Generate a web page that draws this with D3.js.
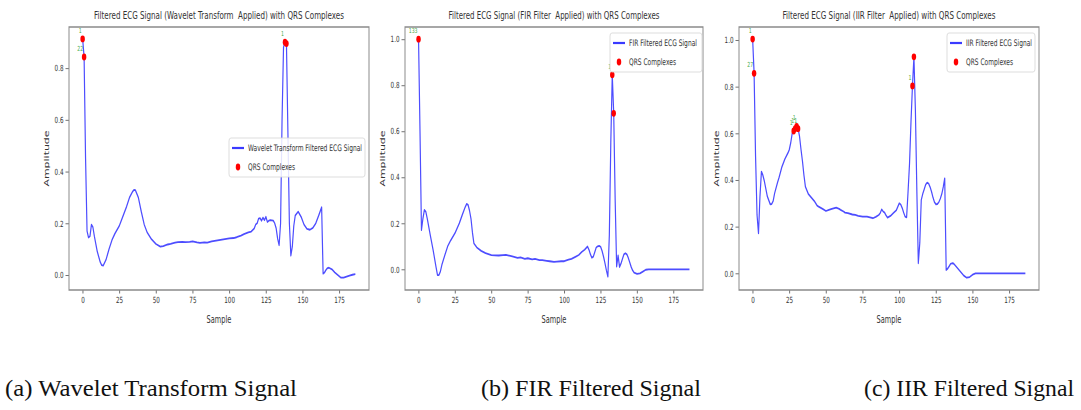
<!DOCTYPE html>
<html>
<head>
<meta charset="utf-8">
<script src="https://cdn.jsdelivr.net/npm/d3@7"></script>
<style>
	body { margin: 0; background: #fff; }
	svg { display: block; }
	text { white-space: pre; }
</style>
</head>
<body>
<script>
// --- data ---
var sampleTicks = [0, 25, 50, 75, 100, 125, 150, 175];
var waveletTicks = [0.0, 0.2, 0.4, 0.6, 0.8];
var filterTicks = [0.0, 0.2, 0.4, 0.6, 0.8, 1.0];

var titles = [
	'Filtered ECG Signal (Wavelet Transform  Applied) with QRS Complexes',
	'Filtered ECG Signal (FIR Filter  Applied) with QRS Complexes',
	'Filtered ECG Signal (IIR Filter  Applied) with QRS Complexes'
];
var seriesNames = [
	'Wavelet Transform Filtered ECG Signal',
	'FIR Filtered ECG Signal',
	'IIR Filtered ECG Signal'
];
var captions = ['(a) Wavelet Transform Signal', '(b) FIR Filtered Signal', '(c) IIR Filtered Signal'];

var waveletSamples = [0, 1, 2, 3, 4, 5, 6, 7, 8, 10, 12, 13, 14, 16, 18, 20, 22, 25, 28, 30, 32, 34, 35, 36, 38, 40,
	42, 44, 47, 50, 53, 55, 58, 60, 63, 65, 68, 70, 73, 75, 78, 80, 83, 85, 88, 90, 93, 95, 98, 100, 103, 105, 108, 110,
	113, 115, 117, 118, 119, 120, 121, 122, 123, 124, 125, 126, 127, 128, 130, 131, 132, 133, 134, 135, 136, 137, 138,
	139, 140, 141, 142, 143, 144, 145, 147, 149, 151, 153, 155, 157, 159, 161, 163, 164, 165, 166, 167, 168, 170, 172,
	174, 176, 178, 180, 182, 184, 186];
var waveletValues = [0.913, 0.843, 0.45, 0.17, 0.145, 0.15, 0.195, 0.185, 0.15, 0.09, 0.05, 0.038, 0.036, 0.06, 0.1,
	0.135, 0.16, 0.19, 0.235, 0.265, 0.3, 0.322, 0.329, 0.328, 0.3, 0.245, 0.195, 0.165, 0.138, 0.12, 0.11, 0.112,
	0.118, 0.12, 0.125, 0.127, 0.128, 0.127, 0.128, 0.13, 0.126, 0.124, 0.126, 0.125, 0.13, 0.132, 0.135, 0.137, 0.14,
	0.142, 0.143, 0.146, 0.152, 0.158, 0.165, 0.168, 0.18, 0.195, 0.2, 0.218, 0.22, 0.21, 0.222, 0.212, 0.225, 0.205,
	0.21, 0.212, 0.21, 0.2, 0.18, 0.14, 0.115, 0.2, 0.6, 0.88, 0.9, 0.895, 0.55, 0.2, 0.075, 0.11, 0.19, 0.23, 0.245,
	0.225, 0.195, 0.178, 0.175, 0.182, 0.2, 0.23, 0.262, 0.005, 0.01, 0.02, 0.027, 0.028, 0.022, 0.01, 0.0, -0.01,
	-0.01, -0.006, -0.002, 0.001, 0.003];
var waveletQrsSamples = [0, 1, 138, 139];
var waveletQrsValues = [0.913, 0.843, 0.9, 0.895];
var waveletQrsLabels = ['1', '22', '1', ''];

var firSamples = [0, 1, 2, 3, 4, 5, 6, 7, 8, 10, 12, 13, 14, 15, 16, 18, 20, 22, 25, 28, 30, 32, 33, 34, 35, 36, 37,
	38, 40, 43, 46, 50, 55, 58, 60, 63, 65, 68, 70, 73, 75, 78, 80, 83, 85, 88, 90, 93, 95, 98, 100, 103, 105, 108, 110,
	112, 114, 116, 117, 118, 119, 120, 121, 122, 123, 124, 125, 126, 127, 128, 129, 130, 131, 132, 133, 134, 135, 136,
	137, 138, 139, 140, 141, 142, 143, 144, 145, 146, 147, 148, 150, 152, 154, 156, 158, 160, 165, 170, 175, 180, 186];
var firValues = [1.0, 0.6, 0.17, 0.22, 0.258, 0.25, 0.22, 0.185, 0.15, 0.084, 0.01, -0.025, -0.025, -0.01, 0.019,
	0.06, 0.1, 0.125, 0.157, 0.2, 0.236, 0.27, 0.284, 0.28, 0.255, 0.22, 0.16, 0.113, 0.095, 0.08, 0.07, 0.062, 0.06,
	0.062, 0.063, 0.058, 0.055, 0.05, 0.052, 0.045, 0.048, 0.043, 0.045, 0.04, 0.04, 0.037, 0.035, 0.032, 0.033, 0.035,
	0.035, 0.042, 0.045, 0.055, 0.062, 0.075, 0.085, 0.099, 0.085, 0.065, 0.05, 0.055, 0.075, 0.095, 0.1, 0.102,
	0.098, 0.08, 0.055, 0.026, -0.005, -0.032, 0.15, 0.55, 0.845, 0.678, 0.3, 0.012, 0.06, 0.01, 0.025, 0.045, 0.065,
	0.07, 0.065, 0.05, 0.03, 0.01, -0.005, -0.015, -0.02, -0.018, -0.01, -0.002, 0.0, 0.0, 0.0, 0.0, 0.0, 0.0, 0.0];
var firQrsSamples = [0, 133, 134];
var firQrsValues = [1.0, 0.845, 0.678];
var firQrsLabels = ['133', '1', ''];

var iirSamples = [0, 1, 2, 3, 4, 5, 6, 7, 8, 10, 12, 13, 14, 15, 17, 18, 20, 22, 24, 25, 26, 27, 28, 29, 30, 31, 32,
	33, 34, 35, 36, 38, 40, 42, 44, 45, 48, 50, 52, 54, 57, 59, 60, 62, 63, 65, 68, 70, 72, 75, 78, 80, 82, 84, 86, 87,
	88, 89, 90, 91, 92, 94, 96, 98, 100, 101, 102, 103, 104, 105, 106, 107, 108, 109, 110, 111, 112, 113, 114, 115,
	116, 117, 118, 119, 120, 121, 122, 123, 124, 125, 126, 127, 128, 129, 130, 131, 132, 133, 134, 135, 136, 137, 138,
	140, 142, 144, 146, 148, 150, 152, 155, 160, 170, 180, 186];
var iirValues = [1.004, 0.857, 0.5, 0.25, 0.171, 0.33, 0.436, 0.42, 0.395, 0.33, 0.296, 0.297, 0.31, 0.343, 0.39,
	0.41, 0.457, 0.49, 0.515, 0.53, 0.56, 0.6, 0.61, 0.62, 0.63, 0.62, 0.586, 0.53, 0.48, 0.42, 0.371, 0.34, 0.325, 0.31,
	0.29, 0.286, 0.275, 0.267, 0.272, 0.276, 0.281, 0.276, 0.272, 0.265, 0.26, 0.258, 0.252, 0.25, 0.246, 0.243, 0.243,
	0.24, 0.236, 0.242, 0.25, 0.258, 0.274, 0.265, 0.26, 0.248, 0.239, 0.246, 0.258, 0.27, 0.3, 0.295, 0.28, 0.26,
	0.243, 0.24, 0.35, 0.47, 0.65, 0.803, 0.928, 0.7, 0.35, 0.043, 0.13, 0.314, 0.34, 0.36, 0.38, 0.389, 0.385, 0.37,
	0.35, 0.325, 0.305, 0.296, 0.297, 0.305, 0.32, 0.34, 0.37, 0.407, 0.014, 0.02, 0.03, 0.04, 0.043, 0.042, 0.035,
	0.02, 0.005, -0.01, -0.019, -0.016, -0.006, 0.0, 0.0, 0.0, 0.0, 0.0, 0.0];
var iirQrsSamples = [0, 1, 28, 29, 30, 31, 109, 110];
var iirQrsValues = [1.004, 0.857, 0.61, 0.62, 0.63, 0.62, 0.803, 0.928];
var iirQrsLabels = ['1', '27', '1', '1', '1', '1', '1', ''];

// --- look ---
var SX = 0.66; // the figure is squeezed horizontally
var LINE_BLUE = '#4d4dff';
var QRS_RED = '#ff0000';
var LABEL_GREEN = '#45a845';
var FONT = 'DejaVu Sans, sans-serif';
var PLOT_TOP = 27;
var PLOT_BOTTOM = 290;

var svg = d3.select('body').append('svg')
	.attr('width', 1081)
	.attr('height', 410);

var fig = svg.append('g').attr('transform', 'scale(' + SX + ',1)');

function zipPoints(xs, ys) {
	return xs.map(function(x, i) { return { x: x, y: ys[i] }; });
}

function drawPanel(p) {
	var left = p.left / SX;
	var right = p.right / SX;
	var x = d3.scaleLinear().domain([-9.3, 195.3]).range([left, right]);
	var y = d3.scaleLinear().domain(p.yDomain).range([PLOT_BOTTOM, PLOT_TOP]);
	var g = fig.append('g');

	// signal
	g.append('path')
		.datum(zipPoints(p.samples, p.values))
		.attr('fill', 'none')
		.attr('stroke', LINE_BLUE)
		.attr('stroke-width', 1.8)
		.attr('stroke-linejoin', 'round')
		.attr('d', d3.line().x(function(d) { return x(d.x); }).y(function(d) { return y(d.y); }));

	// qrs points
	var qrs = zipPoints(p.qrsSamples, p.qrsValues);
	g.selectAll('circle.qrs')
		.data(qrs)
		.enter().append('circle')
		.attr('class', 'qrs')
		.attr('cx', function(d) { return x(d.x); })
		.attr('cy', function(d) { return y(d.y); })
		.attr('r', 3.4)
		.attr('fill', QRS_RED);

	g.selectAll('text.ann')
		.data(qrs)
		.enter().append('text')
		.attr('class', 'ann')
		.attr('x', function(d) { return x(d.x) - 1.5; })
		.attr('y', function(d) { return y(d.y) - 6; })
		.attr('text-anchor', 'end')
		.attr('font-family', FONT)
		.attr('font-size', 7)
		.attr('fill', LABEL_GREEN)
		.text(function(d, i) { return p.qrsLabels[i]; });

	// axes
	var xAxis = g.append('g')
		.attr('transform', 'translate(0,' + PLOT_BOTTOM + ')')
		.call(d3.axisBottom(x).tickValues(sampleTicks).tickSize(3.5).tickPadding(3));
	var yAxis = g.append('g')
		.attr('transform', 'translate(' + left + ',0)')
		.call(d3.axisLeft(y).tickValues(p.yTicks).tickFormat(d3.format('.1f')).tickSize(3.5 / SX).tickPadding(3));
	[xAxis, yAxis].forEach(function(a) {
		a.select('.domain').remove();
		a.selectAll('line').attr('stroke', '#555');
		a.selectAll('text').attr('font-family', FONT).attr('font-size', 8.5).attr('fill', '#333');
	});

	g.append('rect')
		.attr('x', left)
		.attr('y', PLOT_TOP)
		.attr('width', right - left)
		.attr('height', PLOT_BOTTOM - PLOT_TOP)
		.attr('fill', 'none')
		.attr('stroke', '#8a8a8a')
		.attr('stroke-width', 1.5);

	// labels
	g.append('text')
		.attr('x', (left + right) / 2)
		.attr('y', 19)
		.attr('text-anchor', 'middle')
		.attr('font-family', FONT)
		.attr('font-size', 10)
		.attr('fill', '#333')
		.attr('textLength', p.titleWidth / SX)
		.attr('lengthAdjust', 'spacingAndGlyphs')
		.text(p.title);

	g.append('text')
		.attr('x', (left + right) / 2)
		.attr('y', 323)
		.attr('text-anchor', 'middle')
		.attr('font-family', FONT)
		.attr('font-size', 10)
		.attr('fill', '#333')
		.text('Sample');

	g.append('text')
		.attr('transform', 'translate(' + (p.left - 20) / SX + ',' + (PLOT_TOP + PLOT_BOTTOM) / 2 + ') rotate(-90)')
		.attr('text-anchor', 'middle')
		.attr('font-family', FONT)
		.attr('font-size', 10)
		.attr('fill', '#333')
		.attr('textLength', 56)
		.attr('lengthAdjust', 'spacingAndGlyphs')
		.text('Amplitude');

	// legend
	var L = p.legend;
	var lg = g.append('g');
	lg.append('rect')
		.attr('x', L.x / SX)
		.attr('y', L.y)
		.attr('width', L.w / SX)
		.attr('height', 39)
		.attr('rx', 3)
		.attr('fill', '#fff')
		.attr('fill-opacity', 0.85)
		.attr('stroke', '#d6d6d6')
		.attr('stroke-width', 1);
	lg.append('line')
		.attr('x1', (L.x + 3) / SX)
		.attr('x2', (L.x + 15) / SX)
		.attr('y1', L.y + 10)
		.attr('y2', L.y + 10)
		.attr('stroke', '#3a3aff')
		.attr('stroke-width', 2.2);
	lg.append('circle')
		.attr('cx', (L.x + 9) / SX)
		.attr('cy', L.y + 29)
		.attr('r', 3.4)
		.attr('fill', QRS_RED);
	var legendTexts = [p.name, 'QRS Complexes'];
	legendTexts.forEach(function(t, i) {
		lg.append('text')
			.attr('x', (L.x + 19) / SX)
			.attr('y', L.y + 13 + i * 19)
			.attr('font-family', FONT)
			.attr('font-size', 9)
			.attr('fill', '#333')
			.attr('textLength', L.widths[i] / SX)
			.attr('lengthAdjust', 'spacingAndGlyphs')
			.text(t);
	});
}

drawPanel({
	left: 69, right: 369, yDomain: [-0.058, 0.959], yTicks: waveletTicks,
	samples: waveletSamples, values: waveletValues,
	qrsSamples: waveletQrsSamples, qrsValues: waveletQrsValues, qrsLabels: waveletQrsLabels,
	title: titles[0], titleWidth: 250, name: seriesNames[0],
	legend: { x: 229, y: 138, w: 136, widths: [114, 47] }
});
drawPanel({
	left: 405, right: 703, yDomain: [-0.09, 1.053], yTicks: filterTicks,
	samples: firSamples, values: firValues,
	qrsSamples: firQrsSamples, qrsValues: firQrsValues, qrsLabels: firQrsLabels,
	title: titles[1], titleWidth: 211, name: seriesNames[1],
	legend: { x: 610, y: 33, w: 92, widths: [68, 47] }
});
drawPanel({
	left: 739, right: 1039, yDomain: [-0.0716, 1.0557], yTicks: filterTicks,
	samples: iirSamples, values: iirValues,
	qrsSamples: iirQrsSamples, qrsValues: iirQrsValues, qrsLabels: iirQrsLabels,
	title: titles[2], titleWidth: 213, name: seriesNames[2],
	legend: { x: 947, y: 33, w: 88, widths: [66, 47] }
});

// captions under the figure
var captionX = [5, 481, 864];
var captionW = [292, 220, 210];
captions.forEach(function(c, i) {
	svg.append('text')
		.attr('x', captionX[i])
		.attr('y', 396)
		.attr('font-family', 'Liberation Serif, Times New Roman, serif')
		.attr('font-size', 23)
		.attr('fill', '#111')
		.attr('textLength', captionW[i])
		.attr('lengthAdjust', 'spacingAndGlyphs')
		.text(c);
});
</script>
</body>
</html>
